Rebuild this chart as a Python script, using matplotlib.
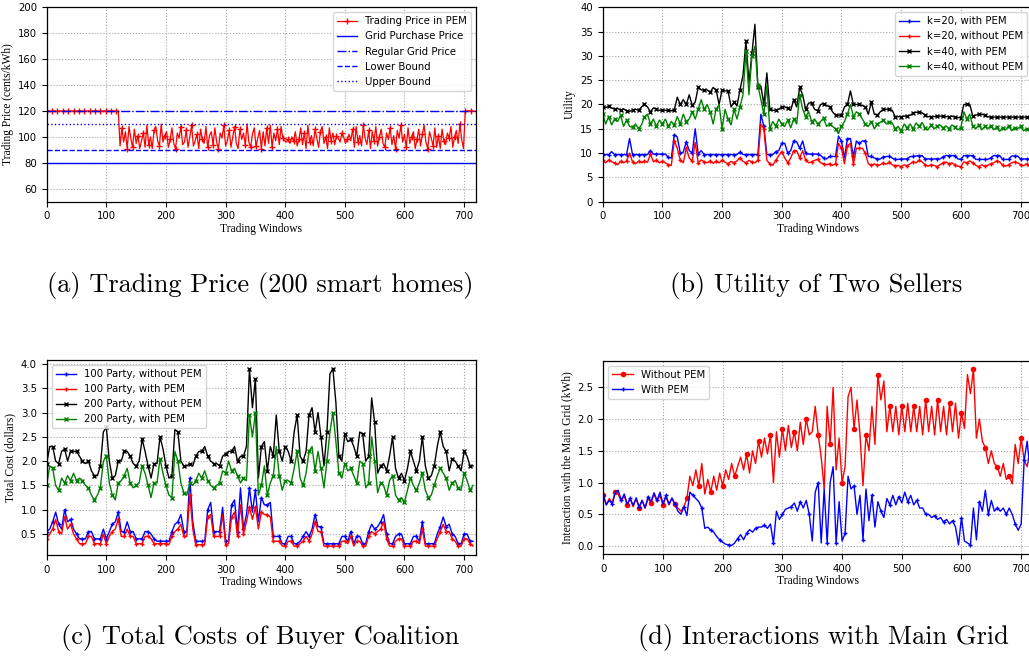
import matplotlib
matplotlib.use("Agg")
import matplotlib.pyplot as plt
import numpy as np

plt.rcParams["font.family"] = "DejaVu Sans"
plt.rcParams["font.size"] = 7.3
plt.rcParams["legend.fontsize"] = 7.3

STEP = 5   # window spacing of the sampled series in (b), (c), (d)

# (a) trading price, sampled every 3 windows
price_pem = [120] * 41 + [
    93, 107, 96, 104, 91, 108, 99, 92, 106, 95, 101, 91, 97, 103, 92, 109, 94, 100, 91, 105,
    108, 97, 93, 110, 96, 101, 104, 92, 98, 107, 95, 91, 103, 99, 108, 94, 96, 105, 92, 100,
    109, 93, 97, 102, 91, 106, 98, 95, 108, 92, 101, 104, 94, 107, 96, 91, 103, 99, 109, 93,
    97, 105, 92, 100, 108, 95, 91, 106, 98, 103, 94, 110, 96, 92, 102, 107, 93, 99, 105, 91,
    104, 93, 107, 95, 109, 92, 103, 97, 106, 94, 108, 99, 97, 96, 98, 95, 100, 97, 104, 93,
    98, 107, 94, 103, 91, 109, 96, 101, 93, 106, 99, 92, 104, 108, 95, 100, 91, 107, 97, 103,
    94, 101, 99, 96, 103, 100, 95, 98, 102, 97, 106, 92, 108, 96, 101, 93, 109, 99, 94, 105,
    91, 104, 97, 108, 93, 100, 106, 95, 92, 103, 98, 107, 94, 101, 91, 105, 99, 109, 96, 102,
    92, 107, 95, 100, 104, 91, 98, 106, 93, 102, 109, 96, 91, 104, 99, 93, 107, 92, 101, 91,
    106, 97, 94, 103, 99, 108, 92, 100, 105, 95, 110, 98, 91,
] + [120] * 6
grid_purchase = 80
regular_grid = 120
lower_bound = 90
upper_bound = 110

# (b) utility of the two sellers
k20_pem = [
    9.7, 9.7, 9.7, 10.3, 9.7, 9.7, 9.7, 9.7, 9.7, 13.0, 9.7, 9.7, 9.7, 9.7, 9.7, 9.7, 10.5, 9.8, 9.8, 9.8,
    9.8, 9.8, 9.1, 9.0, 13.8, 13.3, 10.0, 10.2, 12.3, 10.5, 10.0, 15.0, 9.8, 10.5, 9.7, 9.7, 9.7, 9.7, 9.7, 9.7,
    9.7, 9.7, 9.7, 9.7, 9.7, 9.7, 10.2, 9.7, 9.7, 9.7, 9.7, 9.7, 9.7, 18.0, 15.5, 9.7, 9.7, 9.7, 10.3, 10.5,
    12.0, 12.0, 10.0, 10.5, 12.5, 12.3, 11.0, 12.5, 10.0, 9.8, 9.8, 9.8, 9.8, 9.5, 9.0, 8.8, 9.3, 9.3, 9.3, 13.5,
    12.5, 9.0, 13.0, 13.0, 9.3, 12.5, 12.0, 12.5, 12.5, 9.3, 9.3, 9.0, 8.8, 8.8, 9.2, 9.3, 9.3, 9.0, 8.7, 8.7,
    8.8, 8.8, 8.8, 9.3, 9.3, 9.4, 9.5, 9.5, 8.8, 8.8, 8.8, 8.8, 8.8, 8.8, 9.2, 9.5, 9.5, 9.5, 9.5, 8.8,
    8.7, 9.5, 9.5, 9.5, 9.5, 8.7, 8.7, 8.7, 8.7, 8.7, 9.0, 9.5, 9.5, 9.5, 8.7, 8.7, 8.7, 9.4, 9.4, 9.4,
    8.8, 8.8, 8.8, 8.8,
]
k20_nopem = [
    8.5, 8.0, 8.6, 8.2, 8.0, 7.6, 8.3, 8.0, 8.4, 10.0, 8.2, 7.8, 8.3, 8.0, 8.4, 8.1, 9.8, 8.2, 8.5, 8.0,
    8.3, 8.0, 7.6, 7.5, 12.5, 11.0, 8.5, 8.0, 11.0, 9.0, 8.3, 12.2, 8.0, 8.6, 8.2, 8.0, 8.4, 7.9, 8.3, 8.0,
    8.5, 8.1, 7.8, 8.3, 8.0, 8.4, 9.0, 8.3, 8.0, 8.5, 8.2, 8.0, 8.5, 16.0, 15.0, 8.5, 7.8, 7.5, 8.5, 9.5,
    10.3, 9.0, 8.0, 9.0, 10.5, 10.5, 9.0, 10.5, 8.5, 8.0, 8.2, 8.5, 8.7, 8.0, 7.8, 7.6, 7.8, 7.5, 7.8, 12.0,
    11.0, 7.8, 11.5, 12.0, 7.7, 11.0, 11.0, 11.0, 10.0, 7.8, 7.5, 7.8, 7.5, 7.6, 8.0, 7.7, 8.1, 7.6, 7.4, 7.5,
    7.2, 7.6, 7.4, 7.8, 8.2, 8.0, 8.5, 8.2, 7.6, 7.3, 7.6, 7.5, 7.2, 7.6, 8.0, 8.2, 7.8, 8.0, 7.6, 7.3,
    7.2, 8.2, 8.0, 8.4, 8.0, 7.5, 7.2, 7.6, 7.3, 7.5, 7.8, 8.0, 8.4, 8.2, 7.5, 7.3, 7.6, 8.0, 8.2, 8.0,
    7.6, 7.4, 7.8, 7.2,
]
k40_pem = [
    19.5, 19.4, 19.6, 19.3, 19.0, 19.2, 18.8, 19.1, 18.7, 18.6, 18.8, 19.0, 18.8, 19.5, 20.0, 19.5, 18.5, 19.3, 19.0, 18.8,
    18.9, 18.8, 18.8, 18.7, 18.9, 21.5, 20.0, 21.0, 20.0, 22.0, 19.8, 20.5, 23.5, 23.0, 23.0, 23.0, 22.5, 23.5, 23.0, 20.0,
    23.0, 22.8, 22.8, 19.5, 20.5, 19.7, 23.0, 26.0, 33.0, 24.5, 30.5, 36.5, 23.5, 23.8, 20.0, 26.5, 19.0, 18.8, 18.8, 19.0,
    19.5, 19.5, 19.2, 18.8, 21.0, 19.5, 23.5, 22.0, 19.0, 20.3, 20.3, 19.0, 18.7, 20.0, 20.2, 19.8, 19.5, 18.5, 17.8, 17.8,
    17.8, 19.5, 20.0, 22.8, 20.0, 20.0, 20.0, 19.8, 19.5, 18.0, 20.5, 18.0, 17.8, 18.5, 19.0, 19.0, 19.0, 18.8, 17.5, 17.5,
    17.5, 17.6, 17.6, 17.8, 18.2, 18.4, 18.4, 18.3, 17.8, 17.5, 17.5, 17.5, 17.6, 17.6, 17.6, 17.5, 17.5, 17.6, 17.4, 17.3,
    17.3, 20.0, 20.0, 20.0, 17.6, 17.8, 18.0, 18.0, 17.8, 17.5, 17.4, 17.4, 17.4, 17.4, 17.4, 17.4, 17.4, 17.4, 17.4, 17.4,
    17.4, 17.4, 17.4, 17.4,
]
k40_nopem = [
    18.0, 16.0, 17.5, 15.8, 17.0, 16.5, 17.8, 15.5, 16.8, 15.5, 15.3, 16.0, 15.0, 15.8, 17.5, 18.0, 16.0, 17.0, 15.5, 16.8,
    16.0, 17.0, 15.5, 16.5, 15.8, 17.5, 16.0, 18.0, 16.5, 17.0, 18.5, 17.0, 19.0, 21.0, 19.0, 20.0, 18.5, 16.0, 19.0, 20.0,
    15.0, 19.0, 17.0, 15.8, 19.0, 17.0, 19.5, 22.0, 31.0, 22.0, 30.0, 32.0, 24.0, 21.0, 18.0, 24.0, 15.0, 16.5, 15.5, 17.0,
    16.0, 15.5, 16.8, 15.2, 17.0, 16.0, 22.0, 19.0, 17.5, 18.5, 16.5, 17.0, 16.0, 16.5, 17.2, 15.5, 16.0, 15.5, 15.0, 14.0,
    15.5, 16.5, 18.0, 20.0, 17.5, 18.5, 18.0, 17.0, 16.0, 15.5, 16.5, 15.0, 16.0, 16.3, 16.8, 16.0, 16.5, 16.2, 15.0, 15.5,
    14.5, 16.0, 15.2, 16.0, 15.0, 16.2, 15.5, 16.3, 15.2, 14.8, 15.8, 15.0, 15.5, 15.8, 15.2, 15.6, 15.0, 15.8, 15.3, 14.8,
    15.2, 18.5, 17.0, 18.0, 15.5, 15.0, 15.8, 14.8, 15.5, 15.0, 15.6, 14.8, 15.3, 14.5, 15.2, 14.8, 15.6, 14.6, 15.2, 15.0,
    15.5, 14.6, 15.0, 14.8,
]

# (c) total costs of the buyer coalition
cost100_nopem = [
    0.55, 0.6, 0.75, 0.95, 0.7, 0.6, 1.0, 0.75, 0.8, 0.6, 0.5, 0.4, 0.4, 0.4, 0.55, 0.55, 0.4, 0.4, 0.4, 0.6,
    0.4, 0.55, 0.7, 0.75, 0.95, 0.55, 0.55, 0.75, 0.55, 0.55, 0.4, 0.4, 0.4, 0.55, 0.55, 0.5, 0.4, 0.35, 0.35, 0.35,
    0.35, 0.35, 0.55, 0.7, 0.75, 0.9, 0.55, 0.55, 1.65, 0.75, 0.35, 0.35, 0.35, 0.35, 1.0, 1.15, 0.55, 0.55, 0.55, 1.05,
    0.35, 0.35, 1.1, 1.2, 0.55, 1.45, 0.6, 0.9, 1.45, 0.95, 1.4, 0.75, 1.25, 1.1, 1.1, 1.15, 0.45, 0.45, 0.45, 0.3,
    0.3, 0.45, 0.45, 0.3, 0.3, 0.35, 0.45, 0.55, 0.45, 0.6, 0.9, 0.65, 0.65, 0.3, 0.3, 0.3, 0.3, 0.3, 0.3, 0.45,
    0.45, 0.35, 0.55, 0.3, 0.45, 0.45, 0.3, 0.3, 0.55, 0.7, 0.6, 0.65, 0.75, 0.9, 0.5, 0.3, 0.3, 0.45, 0.5, 0.5,
    0.3, 0.3, 0.3, 0.45, 0.45, 0.35, 0.75, 0.3, 0.3, 0.3, 0.3, 0.5, 0.65, 0.85, 0.65, 0.7, 0.5, 0.45, 0.3, 0.3,
    0.5, 0.5, 0.35, 0.35,
]
cost100_pem = [
    0.4, 0.5, 0.6, 0.8, 0.55, 0.5, 0.85, 0.6, 0.7, 0.5, 0.4, 0.3, 0.3, 0.3, 0.45, 0.45, 0.3, 0.3, 0.3, 0.5,
    0.3, 0.45, 0.55, 0.6, 0.8, 0.45, 0.45, 0.6, 0.45, 0.45, 0.3, 0.3, 0.3, 0.45, 0.45, 0.4, 0.3, 0.3, 0.3, 0.3,
    0.3, 0.28, 0.45, 0.55, 0.6, 0.7, 0.45, 0.45, 1.3, 0.6, 0.28, 0.28, 0.28, 0.28, 0.85, 0.9, 0.45, 0.45, 0.45, 0.9,
    0.28, 0.3, 0.85, 0.95, 0.45, 1.1, 0.5, 0.75, 1.05, 0.8, 1.05, 0.6, 0.95, 0.9, 0.9, 0.85, 0.35, 0.35, 0.35, 0.25,
    0.25, 0.35, 0.35, 0.25, 0.25, 0.3, 0.35, 0.45, 0.35, 0.5, 0.75, 0.55, 0.55, 0.25, 0.25, 0.25, 0.25, 0.25, 0.25, 0.35,
    0.35, 0.3, 0.45, 0.25, 0.35, 0.35, 0.25, 0.25, 0.45, 0.55, 0.5, 0.55, 0.6, 0.75, 0.4, 0.25, 0.25, 0.35, 0.4, 0.4,
    0.25, 0.25, 0.25, 0.35, 0.35, 0.3, 0.6, 0.25, 0.25, 0.25, 0.25, 0.4, 0.55, 0.7, 0.55, 0.55, 0.4, 0.35, 0.25, 0.25,
    0.4, 0.4, 0.3, 0.25,
]
cost200_nopem = [
    1.95, 2.3, 2.3, 2.0, 1.95, 2.2, 2.25, 2.0, 2.2, 2.2, 2.2, 2.1, 2.0, 1.95, 2.0, 1.8, 1.7, 1.7, 1.9, 2.6,
    2.7, 2.0, 1.65, 1.7, 2.0, 2.0, 2.2, 2.2, 2.1, 1.95, 1.9, 2.0, 2.45, 2.2, 1.9, 1.65, 1.95, 1.95, 2.5, 2.25,
    1.9, 1.65, 1.7, 2.65, 2.6, 2.0, 1.9, 1.9, 1.95, 1.9, 2.1, 2.2, 2.2, 2.3, 2.1, 2.0, 1.95, 1.95, 1.9, 2.1,
    2.15, 2.2, 2.2, 2.3, 2.0, 2.1, 2.1, 2.3, 3.9, 3.1, 3.7, 1.65, 2.3, 2.4, 1.8, 2.3, 2.1, 2.95, 2.2, 2.0,
    2.3, 2.2, 2.0, 2.6, 2.95, 2.1, 2.0, 2.2, 2.95, 3.1, 2.6, 3.0, 2.5, 1.9, 2.6, 3.8, 3.9, 3.2, 2.1, 2.0,
    2.55, 2.4, 2.45, 2.3, 2.1, 2.6, 2.55, 2.0, 2.1, 3.3, 2.8, 1.75, 1.9, 1.95, 1.8, 2.1, 2.5, 1.85, 1.65, 1.75,
    1.6, 1.85, 2.2, 2.0, 1.8, 2.0, 2.5, 1.9, 1.65, 1.7, 1.9, 2.3, 2.6, 2.3, 2.2, 1.8, 2.05, 2.0, 1.9, 1.8,
    2.2, 2.1, 1.9, 1.9,
]
cost200_pem = [
    1.5, 1.9, 1.85, 1.5, 1.4, 1.65, 1.55, 1.7, 1.6, 1.75, 1.6, 1.65, 1.6, 1.5, 1.45, 1.3, 1.2, 1.3, 1.45, 2.0,
    2.1, 1.55, 1.3, 1.2, 1.55, 1.6, 1.7, 1.85, 1.55, 1.45, 1.5, 1.55, 1.9, 1.75, 1.5, 1.25, 1.55, 1.55, 2.05, 1.75,
    1.5, 1.3, 1.25, 2.2, 2.0, 1.55, 1.35, 1.3, 1.55, 1.5, 1.6, 1.75, 1.65, 1.8, 1.6, 1.5, 1.45, 1.5, 1.55, 1.8,
    1.75, 2.0, 1.8, 1.85, 1.7, 1.55, 1.65, 1.6, 2.95, 2.5, 3.0, 1.3, 1.5, 1.9, 1.3, 1.55, 1.7, 2.3, 1.7, 1.4,
    1.6, 1.6, 1.55, 1.85, 2.2, 1.65, 1.5, 1.75, 2.2, 2.3, 1.8, 2.2, 1.85, 1.45, 2.0, 2.6, 3.0, 2.4, 1.75, 1.65,
    1.95, 1.8, 1.85, 1.7, 1.55, 2.0, 1.95, 1.45, 1.55, 2.5, 2.0, 1.35, 1.55, 1.5, 1.3, 1.6, 1.7, 1.3, 1.2, 1.25,
    1.15, 1.4, 1.65, 1.5, 1.4, 1.55, 1.75, 1.4, 1.25, 1.3, 1.5, 1.7, 1.85, 1.75, 1.65, 1.4, 1.55, 1.6, 1.45, 1.4,
    1.75, 1.6, 1.4, 1.5,
]

# (d) energy exchanged with the main grid
grid_nopem = [
    0.8, 0.65, 0.75, 0.68, 0.85, 0.82, 0.7, 0.8, 0.65, 0.75, 0.62, 0.75, 0.6, 0.72, 0.6, 0.75, 0.68, 0.82, 0.7, 0.8,
    0.65, 0.78, 0.65, 0.75, 0.66, 0.6, 0.55, 0.62, 0.75, 1.1, 0.95, 1.2, 0.95, 1.3, 0.82, 1.05, 0.85, 1.1, 0.88, 1.15,
    0.95, 1.2, 1.05, 1.3, 1.1, 1.25, 1.4, 1.2, 1.45, 1.15, 1.5, 1.3, 1.65, 1.4, 1.7, 1.45, 1.75, 1.0, 1.8, 1.4,
    1.85, 1.5, 1.9, 1.55, 1.8, 1.5, 1.95, 1.6, 2.0, 1.75, 1.8, 2.2, 1.75, 1.4, 0.9, 2.2, 1.6, 2.5, 1.2, 1.7,
    1.0, 1.25, 2.35, 2.5, 1.85, 2.3, 1.75, 0.95, 1.75, 1.5, 2.2, 1.6, 2.7, 2.3, 2.6, 1.8, 2.2, 1.8, 2.2, 1.75,
    2.2, 1.8, 2.25, 1.8, 2.2, 1.8, 2.2, 1.75, 2.3, 1.8, 2.2, 1.75, 2.3, 1.8, 2.2, 1.75, 2.25, 1.8, 2.25, 1.7,
    2.1, 1.85, 2.7, 2.4, 2.78, 1.7, 2.0, 1.65, 1.55, 1.3, 1.5, 1.3, 1.25, 1.1, 1.3, 1.05, 1.1, 0.98, 1.6, 1.3,
    1.7, 1.35, 1.25, 1.55,
]
grid_pem = [
    0.8, 0.65, 0.72, 0.66, 0.85, 0.88, 0.72, 0.82, 0.66, 0.75, 0.64, 0.76, 0.62, 0.72, 0.6, 0.78, 0.7, 0.84, 0.72, 0.85,
    0.66, 0.8, 0.66, 0.76, 0.66, 0.55, 0.5, 0.62, 0.48, 0.85, 0.8, 0.75, 0.7, 0.6, 0.28, 0.3, 0.25, 0.22, 0.15, 0.1,
    0.06, 0.03, 0.02, 0.01, 0.05, 0.12, 0.18, 0.1, 0.2, 0.26, 0.22, 0.28, 0.3, 0.3, 0.33, 0.28, 0.35, 0.05, 0.55, 0.42,
    0.5, 0.58, 0.6, 0.62, 0.68, 0.55, 0.7, 0.6, 0.72, 0.5, 0.08, 0.85, 1.0, 0.05, 0.9, 0.05, 1.0, 1.25, 0.05, 0.7,
    0.08, 0.2, 1.1, 0.9, 0.95, 0.5, 0.8, 0.1, 0.9, 0.4, 0.8, 0.3, 0.7, 0.55, 0.45, 0.75, 0.65, 0.8, 0.65, 0.78,
    0.68, 0.85, 0.7, 0.8, 0.65, 0.72, 0.6, 0.6, 0.5, 0.5, 0.45, 0.48, 0.42, 0.45, 0.38, 0.42, 0.35, 0.4, 0.3, 0.02,
    0.45, 0.08, 0.05, 0.02, 0.6, 0.1, 0.7, 0.55, 0.88, 0.5, 0.72, 0.55, 0.6, 0.55, 0.6, 0.5, 0.6, 0.5, 0.35, 0.25,
    0.35, 1.35, 1.65, 1.2,
]


def windows(vals, step=STEP):
    return np.arange(len(vals)) * step


def decorate(ax, ylabel):
    ax.set_xlim(0, 720)
    ax.set_xticks(np.arange(0, 701, 100))
    ax.grid(True, color="0.65", linestyle=":", linewidth=0.8)
    ax.set_xlabel("Trading Windows", family="Liberation Serif", fontsize=8.3, labelpad=1)
    ax.set_ylabel(ylabel, family="Liberation Serif", fontsize=8.3, labelpad=3)
    for s in ax.spines.values():
        s.set_linewidth(0.9)


fig = plt.figure(figsize=(10.29, 6.57), dpi=100)
ax_a = fig.add_axes([0.0454, 0.693, 0.4172, 0.2959])
ax_b = fig.add_axes([0.5857, 0.693, 0.4177, 0.2959])
ax_c = fig.add_axes([0.0454, 0.1553, 0.4172, 0.2968])
ax_d = fig.add_axes([0.5863, 0.1563, 0.4177, 0.2947])

# (a)
ax_a.plot(windows(price_pem, 3), price_pem, color="r", lw=0.9, marker="+", ms=4, markevery=3,
          label="Trading Price in PEM")
ax_a.axhline(grid_purchase, color="b", lw=1, label="Grid Purchase Price")
ax_a.axhline(regular_grid, color="b", lw=1, ls="-.", label="Regular Grid Price")
ax_a.axhline(lower_bound, color="b", lw=1, ls="--", label="Lower Bound")
ax_a.axhline(upper_bound, color="b", lw=1, ls=":", label="Upper Bound")
ax_a.set_ylim(50, 200)
ax_a.set_yticks(np.arange(60, 201, 20))
decorate(ax_a, "Trading Price (cents/kWh)")
ax_a.legend(loc="upper right")

# (b)
ax_b.plot(windows(k20_pem), k20_pem, color="b", lw=1, marker="+", ms=3.5, markevery=2,
          label="k=20, with PEM")
ax_b.plot(windows(k20_nopem), k20_nopem, color="r", lw=1, marker="+", ms=3.5, markevery=2,
          label="k=20, without PEM")
ax_b.plot(windows(k40_pem), k40_pem, color="k", lw=1, marker="x", ms=2.5, markevery=2,
          label="k=40, with PEM")
ax_b.plot(windows(k40_nopem), k40_nopem, color="g", lw=1, marker="x", ms=2.5, markevery=2,
          label="k=40, without PEM")
ax_b.set_ylim(0, 40)
ax_b.set_yticks(np.arange(0, 41, 5))
decorate(ax_b, "Utility")
ax_b.legend(loc="upper right")

# (c)
ax_c.plot(windows(cost100_nopem), cost100_nopem, color="b", lw=1, marker="+", ms=3.5, markevery=2,
          label="100 Party, without PEM")
ax_c.plot(windows(cost100_pem), cost100_pem, color="r", lw=1, marker="+", ms=3.5, markevery=2,
          label="100 Party, with PEM")
ax_c.plot(windows(cost200_nopem), cost200_nopem, color="k", lw=1, marker="x", ms=2.5, markevery=2,
          label="200 Party, without PEM")
ax_c.plot(windows(cost200_pem), cost200_pem, color="g", lw=1, marker="x", ms=2.5, markevery=2,
          label="200 Party, with PEM")
ax_c.set_yticks(np.arange(0.5, 4.01, 0.5))
decorate(ax_c, "Total Cost (dollars)")
ax_c.legend(loc="upper left")

# (d)
ax_d.plot(windows(grid_nopem), grid_nopem, color="r", lw=1, marker="o", ms=3, markevery=4,
          label="Without PEM")
ax_d.plot(windows(grid_pem), grid_pem, color="b", lw=1, marker="+", ms=3, markevery=3,
          label="With PEM")
ax_d.set_yticks(np.arange(0, 2.51, 0.5))
decorate(ax_d, "Interaction with the Main Grid (kWh)")
ax_d.legend(loc="upper left")

captions = [
    (0.253, 0.565, "(a) Trading Price (200 smart homes)"),
    (0.793, 0.565, "(b) Utility of Two Sellers"),
    (0.253, 0.029, "(c) Total Costs of Buyer Coalition"),
    (0.800, 0.029, "(d) Interactions with Main Grid"),
]
for x, y, txt in captions:
    fig.text(x, y, txt, ha="center", va="center", family="cmr10", fontsize=19)

fig.savefig("out.png", dpi=100)
